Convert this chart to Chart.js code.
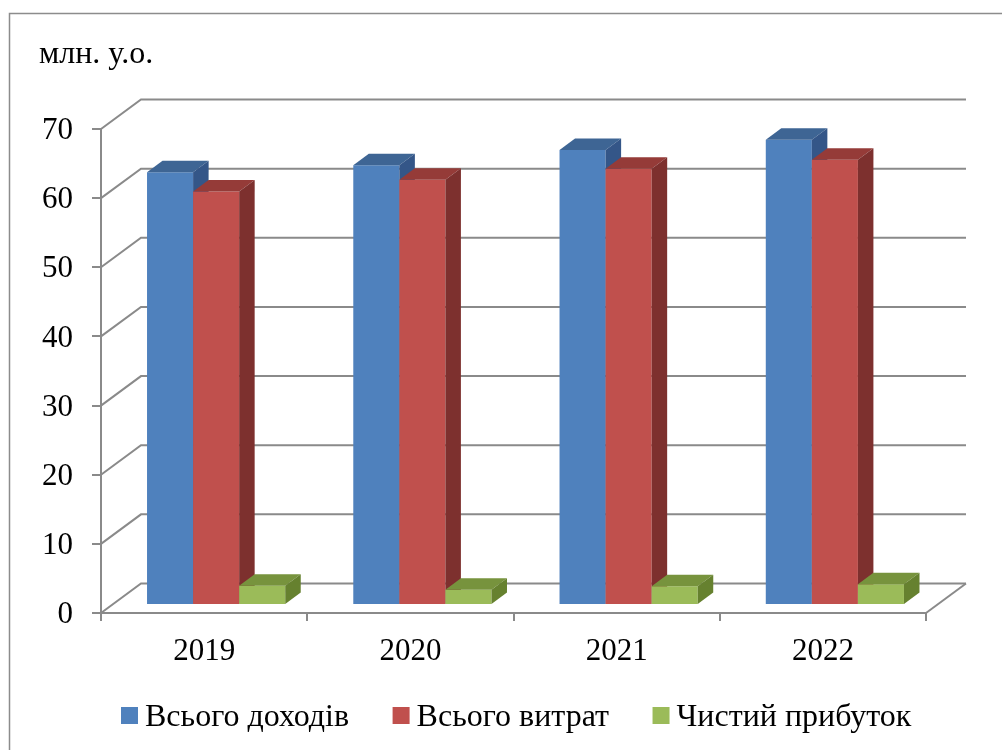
<!DOCTYPE html>
<html>
<head>
<meta charset="utf-8">
<script src="https://cdn.jsdelivr.net/npm/chart.js@4.4.1/dist/chart.umd.min.js"></script>
<style>
  html, body { margin: 0; padding: 0; background: #ffffff; }
  #wrap { position: relative; width: 1002px; height: 750px; overflow: hidden; }
  canvas { display: block; }
</style>
</head>
<body>
<div id="wrap"><canvas id="c" width="1002" height="750"></canvas></div>
<script>
// ---- data ----
const categories = ['2019', '2020', '2021', '2022'];
const seriesNames = ['Всього доходів', 'Всього витрат', 'Чистий прибуток'];
const incomes  = [62.6, 63.6, 65.8, 67.3];
const expenses = [59.8, 61.5, 63.1, 64.4];
const profit   = [2.8, 2.2, 2.7, 3.0];
const yTickValues = [0, 10, 20, 30, 40, 50, 60, 70];
const unitLabel = 'млн. у.о.';

// ---- styles ----
const FONT = "'Liberation Serif', 'Times New Roman', serif";
const frontColors = ['#4F81BD', '#C0504D', '#9BBB59'];
const topColors   = ['#3E6594', '#953B38', '#77933D'];
const sideColors  = ['#345688', '#7D302E', '#66812F'];
const GRID = '#8a8a8a';
const WALL_DX = 40, WALL_DY = -29.5;   // back wall offset
const BAR_DX = 12, BAR_DY = -8;       // bar front-plane offset
const DEPTH_DX = 15.5, DEPTH_DY = -11.5; // bar depth

function drawFaces(ctx, el, i) {
  const p = el.getProps(['x', 'y', 'base', 'width'], true);
  const l = p.x - p.width / 2, r = p.x + p.width / 2;
  const t = Math.min(p.y, p.base), b = Math.max(p.y, p.base);
  ctx.fillStyle = topColors[i];
  ctx.beginPath();
  ctx.moveTo(l, t); ctx.lineTo(l + DEPTH_DX, t + DEPTH_DY);
  ctx.lineTo(r + DEPTH_DX, t + DEPTH_DY); ctx.lineTo(r, t);
  ctx.closePath(); ctx.fill();
  ctx.fillStyle = sideColors[i];
  ctx.beginPath();
  ctx.moveTo(r, t); ctx.lineTo(r + DEPTH_DX, t + DEPTH_DY);
  ctx.lineTo(r + DEPTH_DX, b + DEPTH_DY); ctx.lineTo(r, b);
  ctx.closePath(); ctx.fill();
}

const wallPlugin = {
  id: 'walls',
  beforeDraw(chart) {
    const ctx = chart.ctx;
    ctx.save();
    ctx.fillStyle = '#ffffff';
    ctx.fillRect(0, 0, chart.width, chart.height);
    ctx.strokeStyle = '#8c8c8c';
    ctx.lineWidth = 1.5;
    ctx.beginPath();
    ctx.moveTo(9.5, 760); ctx.lineTo(9.5, 13.5); ctx.lineTo(1010, 13.5);
    ctx.stroke();
    ctx.fillStyle = '#000';
    ctx.font = '32px ' + FONT;
    ctx.textBaseline = 'alphabetic';
    ctx.textAlign = 'left';
    ctx.fillText(unitLabel, 39, 63);
    ctx.restore();
  },
  beforeDatasetsDraw(chart) {
    const ctx = chart.ctx;
    const y = chart.scales.y, a = chart.chartArea;
    ctx.save();
    ctx.strokeStyle = GRID;
    ctx.lineWidth = 2;
    yTickValues.forEach(v => {
      const py = y.getPixelForValue(v);
      ctx.beginPath();
      ctx.moveTo(a.left, py);
      ctx.lineTo(a.left + WALL_DX, py + WALL_DY);
      ctx.lineTo(a.right + WALL_DX, py + WALL_DY);
      ctx.stroke();
    });
    const p0 = y.getPixelForValue(0);
    ctx.beginPath();
    ctx.moveTo(a.right, p0);
    ctx.lineTo(a.right + WALL_DX, p0 + WALL_DY);
    ctx.stroke();
    ctx.restore();

    // bars: library elements, drawn left-to-right with 3D faces
    ctx.save();
    ctx.translate(BAR_DX, BAR_DY);
    const n = chart.data.datasets.length;
    categories.forEach((c, ci) => {
      for (let i = 0; i < n; i++) {
        const el = chart.getDatasetMeta(i).data[ci];
        if (!el) continue;
        el.draw(ctx, a);
        drawFaces(ctx, el, i);
      }
    });
    ctx.restore();
  },
  beforeDatasetDraw() { return false; },
  afterDatasetsDraw(chart) {
    const ctx = chart.ctx;
    ctx.save();
    ctx.font = '32px ' + FONT;
    ctx.textBaseline = 'alphabetic';
    ctx.textAlign = 'left';
    let x = 121;
    chart.data.datasets.forEach((ds, i) => {
      ctx.fillStyle = frontColors[i];
      ctx.fillRect(x, 707, 17, 17);
      ctx.fillStyle = '#000';
      ctx.fillText(ds.label, x + 24, 726);
      x += 24 + ctx.measureText(ds.label).width + 43.5;
    });
    ctx.restore();
  }
};

const datasets = [incomes, expenses, profit].map((d, i) => ({
  label: seriesNames[i],
  data: d,
  backgroundColor: frontColors[i],
  borderWidth: 0,
  clip: false
}));

new Chart(document.getElementById('c'), {
  type: 'bar',
  data: { labels: categories, datasets },
  options: {
    responsive: false,
    animation: false,
    events: [],
    layout: { padding: { left: 0, top: 129, right: 76, bottom: 0 } },
    datasets: { bar: { categoryPercentage: 0.67, barPercentage: 1.0 } },
    plugins: { legend: { display: false }, tooltip: { enabled: false }, title: { display: false } },
    scales: {
      x: {
        afterFit(s) { s.height = 137; },
        grid: { offset: true, drawOnChartArea: false, tickLength: 8, color: GRID, lineWidth: 2 },
        border: { display: true, color: GRID, width: 2 },
        ticks: { color: '#000', font: { family: FONT, size: 31 }, padding: 12, maxRotation: 0 }
      },
      y: {
        min: 0, max: 70,
        afterFit(s) { s.width = 101; },
        afterBuildTicks(s) { s.ticks = yTickValues.map(v => ({ value: v })); },
        grid: { drawOnChartArea: false, tickLength: 9, color: GRID, lineWidth: 2 },
        border: { display: true, color: GRID, width: 2 },
        ticks: { color: '#000', font: { family: FONT, size: 31 }, padding: 19, labelOffset: 2 }
      }
    }
  },
  plugins: [wallPlugin]
});
</script>
</body>
</html>
